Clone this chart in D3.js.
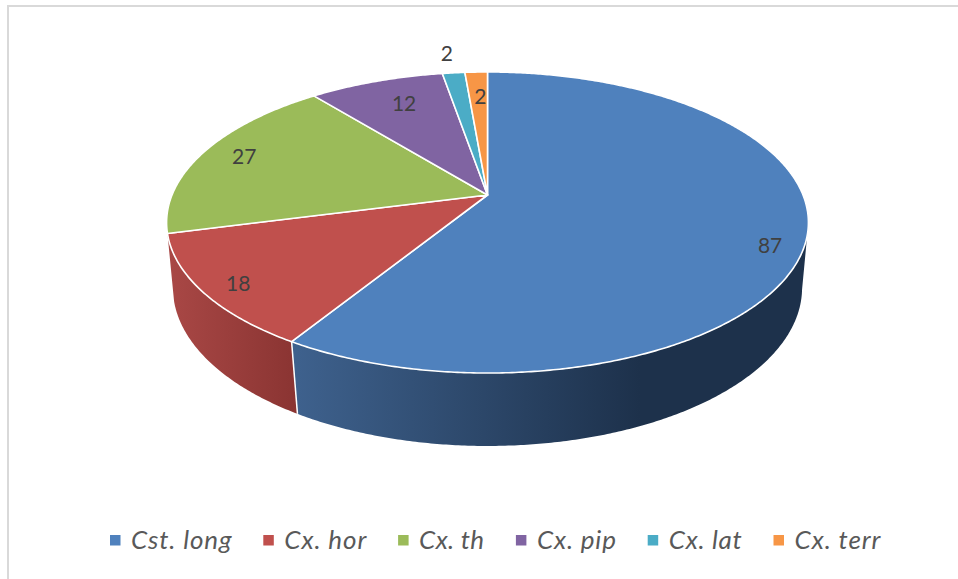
<!DOCTYPE html>
<html>
<head>
<meta charset="utf-8">
<script src="https://d3js.org/d3.v7.min.js"></script>
<style>
  body { margin: 0; background: #fff; }
  text { font-family: Lato, "Open Sans", sans-serif; }
</style>
</head>
<body>
<svg width="958" height="579"></svg>
<script>
// chart values
var species = ["Cst. long", "Cx. hor", "Cx. th", "Cx. pip", "Cx. lat", "Cx. terr"];
var counts = [87, 18, 27, 12, 2, 2];
var colors = ["#4f81bd", "#c0504d", "#9bbb59", "#8064a2", "#4bacc6", "#f79646"];

// where each value label sits: radius as a share of the disc, and a small turn in degrees
var labelRadius = [0.904, 0.899, 0.855, 0.766, 1.188, 0.768];
var labelTurn = [5.6, -1.3, 0.5, 1.4, -0.3, 0.5];
// legend text widths, the fallback font runs a little wide
var legendWidths = [100.5, 82, 65, 79, 73, 86];

var svg = d3.select("svg");

// frame
svg.append("rect")
    .attr("x", 8).attr("y", 6)
    .attr("width", 1000).attr("height", 640)
    .attr("fill", "#fff")
    .attr("stroke", "#d9d9d9")
    .attr("stroke-width", 2);

// the disc is seen in perspective, so the centre is not the middle of the ellipse
function projector(cx, cy, a, b, k) {
    return function(angle, r) {
        var u = r * Math.sin(angle), v = -r * Math.cos(angle);
        var w = 1 - k * v;
        return [cx + a * u / w, cy + b * v / w];
    };
}
var topDisc = projector(487.5, 195, 315.5, 145.5, 0.1827);
var bottomDisc = projector(487.5, 260.9, 310, 153.6, 0.17);

var slices = d3.pie().sort(null)(counts);
var line = d3.line();
var defs = svg.append("defs");

function arcAngles(a0, a1) {
    var n = Math.max(2, Math.ceil((a1 - a0) * 120));
    return d3.range(n + 1).map(function(i) { return a0 + (a1 - a0) * i / n; });
}

// side walls, only the part facing the viewer
var wallFrom = Math.PI / 2 + Math.asin(0.1827);
var wallTo = 2 * Math.PI - wallFrom;
var wallShade = [
    {slice: 0, x1: 297, x2: 640, from: "#3e618d", to: "#1d314b"},
    {slice: 1, x1: 172, x2: 297, from: "#a84745", to: "#8a3432"}
];

wallShade.forEach(function(w, i) {
    var s = slices[w.slice];
    var a0 = Math.max(s.startAngle, wallFrom), a1 = Math.min(s.endAngle, wallTo);
    var grad = defs.append("linearGradient")
        .attr("id", "wall" + i)
        .attr("gradientUnits", "userSpaceOnUse")
        .attr("x1", w.x1).attr("x2", w.x2).attr("y1", 0).attr("y2", 0);
    grad.append("stop").attr("offset", 0).attr("stop-color", w.from);
    grad.append("stop").attr("offset", 1).attr("stop-color", w.to);
    var angles = arcAngles(a0, a1);
    var outline = angles.map(function(a) { return topDisc(a, 1); })
        .concat(angles.slice().reverse().map(function(a) { return bottomDisc(a, 1); }));
    svg.append("path")
        .attr("d", line(outline) + "Z")
        .attr("fill", "url(#wall" + i + ")");
});

// white seam between the two walls
svg.append("path")
    .attr("d", line([topDisc(slices[0].endAngle, 1), bottomDisc(slices[0].endAngle, 1)]))
    .attr("stroke", "#fff")
    .attr("stroke-width", 1.5)
    .attr("fill", "none");

// top of the pie
svg.append("g").selectAll("path")
    .data(slices)
    .enter().append("path")
    .attr("d", function(d) {
        var pts = arcAngles(d.startAngle, d.endAngle).map(function(a) { return topDisc(a, 1); });
        return line([topDisc(0, 0)].concat(pts)) + "Z";
    })
    .attr("fill", function(d, i) { return colors[i]; })
    .attr("stroke", "#fff")
    .attr("stroke-width", 1.6)
    .attr("stroke-linejoin", "round");

// value labels
svg.append("g").selectAll("text")
    .data(slices)
    .enter().append("text")
    .attr("transform", function(d, i) {
        var mid = (d.startAngle + d.endAngle) / 2 + labelTurn[i] * Math.PI / 180;
        return "translate(" + topDisc(mid, labelRadius[i]) + ")";
    })
    .attr("text-anchor", "middle")
    .attr("dy", "0.35em")
    .attr("font-size", 21)
    .attr("fill", "#404040")
    .text(function(d) { return d.value; });

// legend as a row
var legend = svg.append("g").attr("class", "legend");
var x = 110;
species.forEach(function(name, i) {
    legend.append("rect")
        .attr("x", x).attr("y", 535)
        .attr("width", 10.5).attr("height", 10.5)
        .attr("fill", colors[i]);
    legend.append("text")
        .attr("x", x + 21).attr("y", 548.5)
        .attr("font-size", 26)
        .attr("font-style", "italic")
        .attr("textLength", legendWidths[i])
        .attr("fill", "#595959")
        .text(name);
    x += 21 + legendWidths[i] + 31.8;
});
</script>
</body>
</html>
